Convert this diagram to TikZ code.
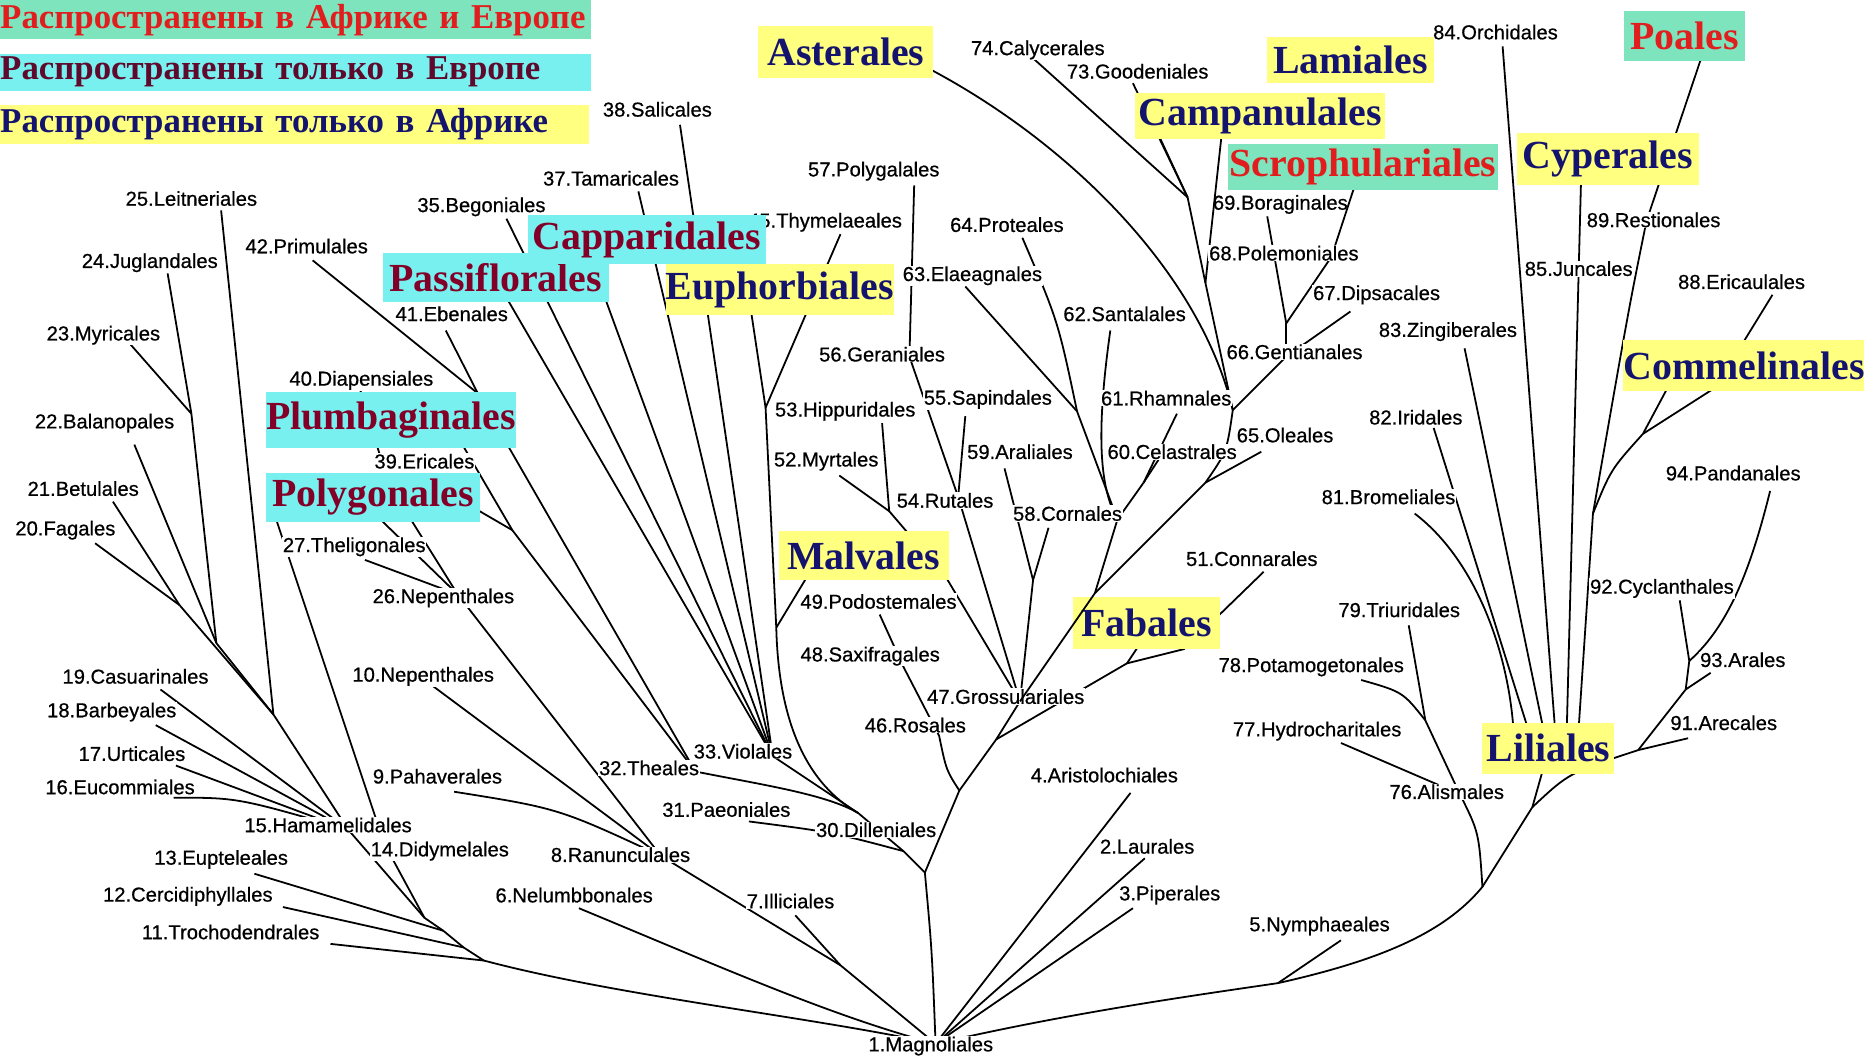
\documentclass[tikz,border=0pt]{standalone}
\usepackage{fontspec}
\setmainfont{Liberation Serif}
\newfontfamily\sansfam[FakeBold=0.6]{Liberation Sans}
\usepackage{xcolor}
\usepackage{tikz}

\definecolor{afryel}{RGB}{255,255,128}
\definecolor{eurcyan}{RGB}{120,240,240}
\definecolor{bothgrn}{RGB}{125,228,190}
\definecolor{afrtxt}{RGB}{20,20,110}
\definecolor{eurtxt}{RGB}{130,0,40}
\definecolor{bothtxt}{RGB}{225,30,30}
\definecolor{legeur}{RGB}{95,10,45}

\newcommand{\lblfont}{\sansfam\fontsize{17}{17}\selectfont}
\newcommand{\grpfont}{\bfseries\fontsize{33.5}{33.5}\selectfont}
\newcommand{\legfont}{\bfseries\fontsize{29.3}{29.3}\selectfont}

\begin{document}
\begin{tikzpicture}[
		x = 1pt, y = -1pt,
		br/.style = {line width = 1.5pt},
		lbl/.style = {font = \lblfont, fill = white, inner sep = 0.6pt},
		grp/.style = {font = \grpfont, inner sep = 0pt},
		afr/.style = {grp, fill = afryel, text = afrtxt},
		eur/.style = {grp, fill = eurcyan, text = eurtxt},
		both/.style = {grp, fill = bothgrn, text = bothtxt},
		legbox/.style = {font = \legfont, anchor = north west, inner sep = 0pt, align = left}
		]

	\useasboundingbox (0,0) rectangle (1568,890);

	\coordinate (root) at (787,878);

	% Hamamelidae
	\coordinate (t16) at (146,671);
	\coordinate (t17) at (148,644);
	\coordinate (t18) at (131,610);
	\coordinate (t19) at (135,580);
	\coordinate (t20) at (80,457);
	\coordinate (t21) at (95,422);
	\coordinate (j20) at (151,509);
	\coordinate (t22) at (113,374);
	\coordinate (t23) at (110,290);
	\coordinate (t24) at (141,230);
	\coordinate (j23) at (161,348);
	\coordinate (jA) at (182,541);
	\coordinate (t25) at (186,177);
	\coordinate (jB) at (230,601);
	\coordinate (tPl) at (232,436);
	\coordinate (e15) at (316,688);
	\coordinate (j15) at (293,698);
	\coordinate (t14) at (331,724);
	\coordinate (j14) at (357,772);
	\coordinate (t13) at (214,735);
	\coordinate (j13) at (373,783);
	\coordinate (t12) at (238,763);
	\coordinate (j12) at (390,797);
	\coordinate (t11) at (278,794);
	\coordinate (j11) at (407,808);

	\draw[br] (t16) .. controls (200,671) .. (j15);
	\draw[br] (t17) -- (j15);
	\draw[br] (t18) -- (j15);
	\draw[br] (t19) -- (j15);
	\draw[br] (t20) -- (j20);
	\draw[br] (t21) -- (j20);
	\draw[br] (j20) -- (jB);
	\draw[br] (t24) -- (j23);
	\draw[br] (t23) -- (j23);
	\draw[br] (j23) -- (jA);
	\draw[br] (t22) -- (jA);
	\draw[br] (jA) -- (jB);
	\draw[br] (t25) -- (jB) -- (j15);
	\draw[br] (tPl) -- (e15) -- (j15);
	\draw[br] (j15) -- (j14) -- (j13) -- (j12) -- (j11);
	\draw[br] (t14) -- (j14);
	\draw[br] (t13) -- (j13);
	\draw[br] (t12) -- (j12);
	\draw[br] (t11) -- (j11);
	\draw[br] (j11) .. controls (520,838) and (680,855) .. (root);

	% Ranunculidae, Caryophyllidae
	\coordinate (t42) at (263,219);
	\coordinate (t41) at (375,278);
	\coordinate (j41) at (402,331);
	\coordinate (t40) at (303,328);
	\coordinate (e39) at (322,391);
	\coordinate (tPb) at (372,345);
	\coordinate (tPg) at (400,428);
	\coordinate (jE) at (431,446);
	\coordinate (j32) at (585,649);
	\coordinate (tPg2) at (319,436);
	\coordinate (tPg3) at (345,436);
	\coordinate (t27) at (307,471);
	\coordinate (j26) at (385,500);
	\coordinate (t10) at (364,577);
	\coordinate (t9) at (382,666);
	\coordinate (j8) at (556,720);
	\coordinate (t7) at (669,770);
	\coordinate (j7) at (707,812);
	\coordinate (t6) at (487,764);

	\draw[br] (t42) -- (j41);
	\draw[br] (t41) -- (j41);
	\draw[br] (j41) -- (j32);
	\draw[br] (t40) -- (e39);
	\draw[br] (tPb) -- (jE);
	\draw[br] (tPg) -- (jE);
	\draw[br] (jE) -- (j32);
	\draw[br] (tPg2) -- (j26);
	\draw[br] (tPg3) -- (j26);
	\draw[br] (t27) -- (j26);
	\draw[br] (j26) -- (j8);
	\draw[br] (t10) -- (j8);
	\draw[br] (t9) .. controls (470,680) .. (j8);
	\draw[br] (j8) -- (j7) -- (root);
	\draw[br] (t7) -- (j7);
	\draw[br] (t6) .. controls (610,815) and (700,855) .. (root);

	% Dilleniidae
	\coordinate (t35) at (426,184);
	\coordinate (tPf1) at (420,240);
	\coordinate (tPf2) at (505,240);
	\coordinate (t37) at (537,161);
	\coordinate (t38) at (572,105);
	\coordinate (j33) at (650,636);
	\coordinate (tEu) at (630,250);
	\coordinate (t45) at (707,197);
	\coordinate (j53) at (644,343);
	\coordinate (tMv) at (682,480);
	\coordinate (j49) at (653,528);
	\coordinate (jD) at (722,684);
	\coordinate (j30) at (760,716);
	\coordinate (t31) at (630,691);
	\coordinate (d1) at (778,734);

	\draw[br] (t35) -- (j33);
	\draw[br] (tPf1) -- (j33);
	\draw[br] (tPf2) -- (j33);
	\draw[br] (t37) -- (j33);
	\draw[br] (t38) -- (j33);
	\draw[br] (tEu) -- (j53);
	\draw[br] (t45) -- (j53);
	\draw[br] (j53) -- (j49);
	\draw[br] (tMv) -- (j49);
	\draw[br] (j49) .. controls (655,610) and (680,660) .. (jD);
	\draw[br] (j33) -- (jD);
	\draw[br] (j32) .. controls (640,660) and (695,668) .. (jD);
	\draw[br] (jD) -- (j30);
	\draw[br] (t31) .. controls (700,700) .. (j30);
	\draw[br] (j30) -- (d1) .. controls (784,800) .. (root);

	% Rosidae
	\coordinate (t57) at (769,156);
	\coordinate (j56) at (765,300);
	\coordinate (t55) at (812,350);
	\coordinate (j54) at (806,418);
	\coordinate (t52) at (706,400);
	\coordinate (t53) at (742,356);
	\coordinate (j52) at (748,430);
	\coordinate (jMv) at (796,486);
	\coordinate (j47) at (858,590);
	\coordinate (t59) at (845,394);
	\coordinate (t58) at (882,444);
	\coordinate (j58) at (869,488);
	\coordinate (t64) at (860,200);
	\coordinate (t63) at (812,241);
	\coordinate (j63) at (906,346);
	\coordinate (t62) at (934,278);
	\coordinate (t61) at (990,348);
	\coordinate (t60) at (975,386);
	\coordinate (jCel) at (962,406);
	\coordinate (jC) at (940,437);
	\coordinate (jR) at (921,499);
	\coordinate (p49) at (740,517);
	\coordinate (p48) at (760,561);
	\coordinate (p46) at (790,619);
	\coordinate (jRos) at (807,665);
	\coordinate (jF) at (838,622);
	\coordinate (jFab) at (948,558);
	\coordinate (tFb) at (960,540);
	\coordinate (t51) at (1063,481);
	\coordinate (c51) at (996,546);

	\draw[br] (t57) -- (j56) -- (j54);
	\draw[br] (t55) -- (j54);
	\draw[br] (j54) -- (j47);
	\draw[br] (t52) -- (j52);
	\draw[br] (t53) -- (j52);
	\draw[br] (j52) -- (jMv) -- (j47);
	\draw[br] (t59) -- (j58);
	\draw[br] (t58) -- (j58);
	\draw[br] (j58) -- (j47);
	\draw[br] (t64) .. controls (890,270) .. (j63);
	\draw[br] (t63) -- (j63);
	\draw[br] (j63) -- (jC);
	\draw[br] (t62) .. controls (921,370) and (926,412) .. (jC);
	\draw[br] (t61) -- (jCel);
	\draw[br] (t60) -- (jCel);
	\draw[br] (jCel) -- (jC);
	\draw[br] (jC) -- (jR);
	\draw[br] (p49) -- (p48) -- (p46) .. controls (796,648) .. (jRos);
	\draw[br] (d1) -- (jRos) -- (jF) -- (j47);
	\draw[br] (tFb) -- (jFab);
	\draw[br] (t51) -- (c51) -- (jFab);
	\draw[br] (jFab) -- (jF);

	% Asteridae
	\coordinate (tAst) at (780,57);
	\coordinate (t74) at (869,49);
	\coordinate (t73) at (953,70);
	\coordinate (tCa1) at (972,108);
	\coordinate (j74) at (999,166);
	\coordinate (tCa2) at (1028,110);
	\coordinate (jCamp) at (1014,238);
	\coordinate (jAst) at (1037,345);
	\coordinate (t69) at (1066,182);
	\coordinate (tSc) at (1139,158);
	\coordinate (c68) at (1120,216);
	\coordinate (j67) at (1082,272);
	\coordinate (t67) at (1136,262);
	\coordinate (j66) at (1082,300);
	\coordinate (t65) at (1061,380);
	\coordinate (jOle) at (1014,406);

	\draw[br] (tAst) .. controls (900,120) and (1010,230) .. (jAst);
	\draw[br] (t74) -- (j74);
	\draw[br] (t73) -- (j74);
	\draw[br] (tCa1) -- (j74);
	\draw[br] (j74) -- (jCamp);
	\draw[br] (tCa2) -- (jCamp);
	\draw[br] (jCamp) -- (jAst);
	\draw[br] (t69) -- (j67);
	\draw[br] (tSc) -- (c68) -- (j67);
	\draw[br] (j67) -- (j66);
	\draw[br] (t67) -- (j66);
	\draw[br] (j66) -- (jAst);
	\draw[br] (jAst) .. controls (1032,380) .. (jOle);
	\draw[br] (t65) -- (jOle);
	\draw[br] (jOle) -- (jR);

	% Liliopsida
	\coordinate (jNym) at (1075,827);
	\coordinate (t5) at (1128,791);
	\coordinate (jAl) at (1247,746);
	\coordinate (jLil) at (1289,679);
	\coordinate (jLt) at (1300,640);
	\coordinate (t79) at (1185,526);
	\coordinate (t78) at (1145,572);
	\coordinate (j78) at (1199,606);
	\coordinate (t77) at (1128,625);
	\coordinate (j76) at (1228,668);
	\coordinate (t81) at (1190,432);
	\coordinate (t82) at (1206,360);
	\coordinate (t83) at (1232,293);
	\coordinate (t84) at (1264,39);
	\coordinate (t85) at (1330,150);
	\coordinate (e81) at (1273,612);
	\coordinate (e82) at (1285,612);
	\coordinate (e83) at (1298,612);
	\coordinate (e84) at (1308,612);
	\coordinate (e85) at (1318,612);
	\coordinate (e89) at (1328,612);
	\coordinate (tPo) at (1432,46);
	\coordinate (j89) at (1385,186);
	\coordinate (jCj) at (1340,432);
	\coordinate (tCm) at (1405,322);
	\coordinate (t88) at (1491,248);
	\coordinate (c88) at (1443,326);
	\coordinate (jCm) at (1382,365);
	\coordinate (t94) at (1489,413);
	\coordinate (t92) at (1413,505);
	\coordinate (j93) at (1421,556);
	\coordinate (t93) at (1439,566);
	\coordinate (j93b) at (1418,580);
	\coordinate (t91) at (1420,621);
	\coordinate (jAra) at (1378,631);
	\coordinate (t4) at (951,667);
	\coordinate (t2) at (963,722);
	\coordinate (t3) at (953,764);

	\draw[br] (root) .. controls (900,852) and (1000,838) .. (jNym) .. controls (1160,808) and (1215,785) .. (jAl);
	\draw[br] (t5) -- (jNym);
	\draw[br] (jAl) -- (jLil) -- (jLt);
	\draw[br] (t79) -- (j78);
	\draw[br] (t78) .. controls (1180,582) .. (j78);
	\draw[br] (j78) -- (j76);
	\draw[br] (t77) -- (j76);
	\draw[br] (j76) .. controls (1244,700) .. (jAl);
	\draw[br] (t81) .. controls (1240,470) and (1268,545) .. (e81) -- (jLt);
	\draw[br] (t82) -- (e82) -- (jLt);
	\draw[br] (t83) -- (e83) -- (jLt);
	\draw[br] (t84) -- (e84) -- (jLt);
	\draw[br] (t85) -- (e85) -- (jLt);
	\draw[br] (tPo) -- (j89) .. controls (1370,260) .. (jCj) -- (e89) -- (jLt);
	\draw[br] (tCm) -- (jCm);
	\draw[br] (t88) -- (c88) -- (jCm);
	\draw[br] (jCm) .. controls (1355,395) .. (jCj);
	\draw[br] (t94) .. controls (1470,490) and (1450,530) .. (j93);
	\draw[br] (t92) -- (j93) -- (j93b);
	\draw[br] (t93) -- (j93b);
	\draw[br] (j93b) -- (jAra);
	\draw[br] (t91) -- (jAra);
	\draw[br] (jAra) .. controls (1320,650) .. (jLil);
	\draw[br] (t4) -- (root);
	\draw[br] (t2) -- (root);
	\draw[br] (t3) -- (root);

	% orders
	\node[lbl] (n1) at (783,880) {1.Magnoliales};
	\node[lbl] (n2) at (965,712) {2.Laurales};
	\node[lbl] (n3) at (984,753) {3.Piperales};
	\node[lbl] (n4) at (929,652) {4.Aristolochiales};
	\node[lbl] (n5) at (1110,779) {5.Nymphaeales};
	\node[lbl] (n6) at (483,753) {6.Nelumbbonales};
	\node[lbl] (n7) at (665,758) {7.Illiciales};
	\node[lbl] (n8) at (522,719) {8.Ranunculales};
	\node[lbl] (n9) at (368,653) {9.Pahaverales};
	\node[lbl] (n10) at (356,569) {10.Nepenthales};
	\node[lbl] (n11) at (194,784) {11.Trochodendrales};
	\node[lbl] (n12) at (158,754) {12.Cercidiphyllales};
	\node[lbl] (n13) at (186,723) {13.Eupteleales};
	\node[lbl] (n14) at (370,716) {14.Didymelales};
	\node[lbl] (n15) at (276,694) {15.Hamamelidales};
	\node[lbl] (n16) at (101,662) {16.Eucommiales};
	\node[lbl] (n17) at (111,634) {17.Urticales};
	\node[lbl] (n18) at (94,599) {18.Barbeyales};
	\node[lbl] (n19) at (114,569) {19.Casuarinales};
	\node[lbl] (n20) at (55,446) {20.Fagales};
	\node[lbl] (n21) at (70,411) {21.Betulales};
	\node[lbl] (n22) at (88,356) {22.Balanopales};
	\node[lbl] (n23) at (87,282) {23.Myricales};
	\node[lbl] (n24) at (126,221) {24.Juglandales};
	\node[lbl] (n25) at (161,167) {25.Leitneriales};
	\node[lbl] (n26) at (373,503) {26.Nepenthales};
	\node[lbl] (n27) at (298,460) {27.Theligonales};
	\node[lbl] (n30) at (737,698) {30.Dilleniales};
	\node[lbl] (n31) at (611,681) {31.Paeoniales};
	\node[lbl] (n32) at (546,646) {32.Theales};
	\node[lbl] (n33) at (625,632) {33.Violales};
	\node[lbl] (n35) at (405,174) {35.Begoniales};
	\node[lbl] (n37) at (514,150) {37.Tamaricales};
	\node[lbl] (n38) at (553,92) {38.Salicales};
	\node[lbl] (n39) at (357,388) {39.Ericales};
	\node[lbl] (n40) at (304,320) {40.Diapensiales};
	\node[lbl] (n41) at (380,264) {41.Ebenales};
	\node[lbl] (n42) at (258,207) {42.Primulales};
	\node[lbl] (n45) at (694,187) {45.Thymelaeales};
	\node[lbl] (n46) at (770,610) {46.Rosales};
	\node[lbl] (n47) at (846,586) {47.Grossulariales};
	\node[lbl] (n48) at (732,552) {48.Saxifragales};
	\node[lbl] (n49) at (739,506) {49.Podostemales};
	\node[lbl] (n51) at (1053,470) {51.Connarales};
	\node[lbl] (n52) at (695,388) {52.Myrtales};
	\node[lbl] (n53) at (711,346) {53.Hippuridales};
	\node[lbl] (n54) at (795,421) {54.Rutales};
	\node[lbl] (n55) at (831,336) {55.Sapindales};
	\node[lbl] (n56) at (742,298) {56.Geraniales};
	\node[lbl] (n57) at (735,144) {57.Polygalales};
	\node[lbl] (n58) at (898,432) {58.Cornales};
	\node[lbl] (n59) at (858,380) {59.Araliales};
	\node[lbl] (n60) at (986,380) {60.Celastrales};
	\node[lbl] (n61) at (981,335) {61.Rhamnales};
	\node[lbl] (n62) at (946,264) {62.Santalales};
	\node[lbl] (n63) at (818,232) {63.Elaeagnales};
	\node[lbl] (n64) at (847,189) {64.Proteales};
	\node[lbl] (n65) at (1081,366) {65.Oleales};
	\node[lbl] (n66) at (1089,296) {66.Gentianales};
	\node[lbl] (n67) at (1158,248) {67.Dipsacales};
	\node[lbl] (n68) at (1080,213) {68.Polemoniales};
	\node[lbl, fill = none] (n69) at (1077,172) {69.Boraginales};
	\node[lbl] (n73) at (957,60) {73.Goodeniales};
	\node[lbl] (n74) at (873,42) {74.Calycerales};
	\node[lbl] (n76) at (1217,666) {76.Alismales};
	\node[lbl] (n77) at (1108,615) {77.Hydrocharitales};
	\node[lbl] (n78) at (1103,561) {78.Potamogetonales};
	\node[lbl] (n79) at (1177,513) {79.Triuridales};
	\node[lbl] (n81) at (1168,418) {81.Bromeliales};
	\node[lbl] (n82) at (1191,351) {82.Iridales};
	\node[lbl] (n83) at (1218,279) {83.Zingiberales};
	\node[lbl] (n84) at (1258,27) {84.Orchidales};
	\node[lbl] (n85) at (1328,226) {85.Juncales};
	\node[lbl] (n88) at (1465,237) {88.Ericaulales};
	\node[lbl] (n89) at (1391,185) {89.Restionales};
	\node[lbl] (n91) at (1450,608) {91.Arecales};
	\node[lbl] (n92) at (1398,495) {92.Cyclanthales};
	\node[lbl] (n93) at (1466,555) {93.Arales};
	\node[lbl] (n94) at (1458,398) {94.Pandanales};

	% groups
	\node[afr, minimum width = 147pt, minimum height = 44pt] (ast) at (711.5,44) {Asterales};
	\node[afr, minimum width = 140pt, minimum height = 39pt] (lam) at (1136,50.5) {Lamiales};
	\node[afr, minimum width = 210pt, minimum height = 39pt] (cam) at (1060,97.5) {Campanulales};
	\node[both, minimum width = 227pt, minimum height = 39pt] (scr) at (1146.5,140.5) {Scrophulariales};
	\node[both, minimum width = 102pt, minimum height = 42pt] (poa) at (1417,30) {Poales};
	\node[afr, minimum width = 153pt, minimum height = 44pt] (cyp) at (1352.5,134) {Cyperales};
	\node[afr, minimum width = 202pt, minimum height = 43pt] (com) at (1467,307.5) {Commelinales};
	\node[afr, minimum width = 111pt, minimum height = 43pt] (lil) at (1302.5,629.5) {Liliales};
	\node[afr, minimum width = 123pt, minimum height = 44pt] (fab) at (964.5,524) {Fabales};
	\node[afr, minimum width = 143pt, minimum height = 41pt] (mal) at (726.5,467.5) {Malvales};
	\node[afr, minimum width = 192pt, minimum height = 43pt] (eup) at (656,243.5) {Euphorbiales};
	\node[eur, minimum width = 190pt, minimum height = 41pt] (pas) at (417,233.5) {Passiflorales};
	\node[eur, minimum width = 200pt, minimum height = 41pt] (cap) at (544,201.5) {Capparidales};
	\node[eur, minimum width = 210pt, minimum height = 47pt] (plu) at (329,353.5) {Plumbaginales};
	\node[eur, minimum width = 180pt, minimum height = 41pt] (pol) at (314,418.5) {Polygonales};

	\draw[br] (jR) -- (j47);

	% legend
	\node[legbox, fill = bothgrn, text = bothtxt, text width = 497pt, minimum height = 33pt] (leg1) at (0,0) {Распространены в Африке и Европе};
	\node[legbox, fill = eurcyan, text = legeur, text width = 497pt, minimum height = 31pt] (leg2) at (0,45) {Распространены только в Европе};
	\node[legbox, fill = afryel, text = afrtxt, text width = 495pt, minimum height = 33pt] (leg3) at (0,88) {Распространены только в Африке};

\end{tikzpicture}
\end{document}
